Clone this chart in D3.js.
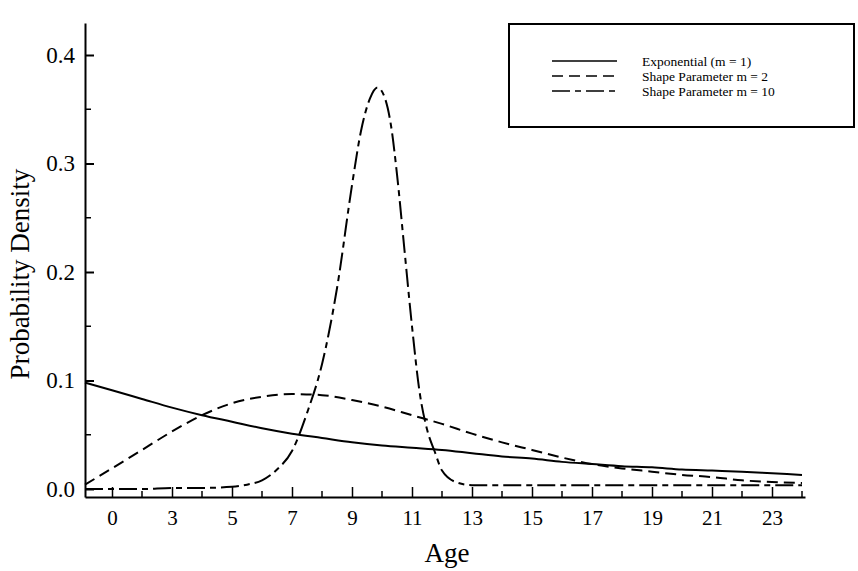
<!DOCTYPE html>
<html>
<head>
<meta charset="utf-8">
<script src="https://cdn.jsdelivr.net/npm/d3@7"></script>
<style>
  html, body { margin: 0; padding: 0; background: #fff; }
  svg { display: block; }
  text { font-family: "Liberation Serif", "Times New Roman", serif; fill: #000; }
</style>
</head>
<body>
<svg id="chart" width="858" height="571"></svg>
<script>
// ---- data ----
const xTickValues = [1, 3, 5, 7, 9, 11, 13, 15, 17, 19, 21, 23];
const xTickLabels = ["0", "3", "5", "7", "9", "11", "13", "15", "17", "19", "21", "23"];
const xMinorTicks = [2, 4, 6, 8, 10, 12, 14, 16, 18, 20, 22, 24];
const yTickValues = [0, 0.1, 0.2, 0.3, 0.4];
const yTickLabels = ["0.0", "0.1", "0.2", "0.3", "0.4"];
const yMinorTicks = [0.05, 0.15, 0.25, 0.35];

const seriesNames = ["Exponential (m = 1)", "Shape Parameter m = 2", "Shape Parameter m = 10"];

const ageExp = [0.1, 1, 2, 3, 4, 5, 6, 7, 8, 9, 10, 11, 12, 13, 14, 15, 16, 17, 18, 19, 20, 21, 22, 23, 24];
const densExp = [0.098, 0.091, 0.083, 0.075, 0.068, 0.062, 0.056, 0.051, 0.047, 0.043, 0.040, 0.038, 0.036, 0.033, 0.030, 0.028, 0.025, 0.023, 0.021, 0.020, 0.018, 0.017, 0.016, 0.0145, 0.013];

const ageM2 = [0.1, 1, 2, 3, 4, 5, 6, 7, 8, 9, 10, 11, 12, 13, 14, 15, 16, 17, 18, 19, 20, 21, 22, 23, 24];
const densM2 = [0.004, 0.019, 0.036, 0.053, 0.068, 0.079, 0.085, 0.0875, 0.0865, 0.082, 0.076, 0.068, 0.060, 0.051, 0.043, 0.036, 0.029, 0.023, 0.019, 0.016, 0.013, 0.011, 0.008, 0.0065, 0.0055];

const ageM10 = [0.1, 1, 2, 3, 4, 5, 5.5, 6, 6.5, 7, 7.5, 8, 8.5, 9, 9.3, 9.6, 9.85, 10.1, 10.3, 10.5, 10.75, 11, 11.25, 11.5, 11.75, 12, 12.5, 13, 14, 16, 18, 20, 22, 24];
const densM10 = [0.000, 0.000, 0.000, 0.001, 0.001, 0.002, 0.004, 0.008, 0.018, 0.035, 0.070, 0.115, 0.185, 0.280, 0.330, 0.360, 0.370, 0.360, 0.335, 0.290, 0.220, 0.150, 0.090, 0.055, 0.035, 0.017, 0.006, 0.0035, 0.0035, 0.0035, 0.0035, 0.0035, 0.0035, 0.0035];

// ---- layout ----
const svg = d3.select("#chart");
const x = d3.scaleLinear().domain([0.1, 24.1]).range([85, 805]);
const y = d3.scaleLinear().domain([0, 0.4]).range([489, 55]);
const yBottom = y.invert(497), yTop = y.invert(23);
const yAxisScale = y.copy().domain([yBottom, yTop]).range([497, 23]);

// x axis
const gx = svg.append("g").attr("transform", `translate(0,${yAxisScale(yBottom)})`);
gx.call(d3.axisBottom(x).tickValues(xTickValues).tickSizeInner(-10).tickSizeOuter(0)
  .tickFormat((d, i) => xTickLabels[i]).tickPadding(13));
gx.select(".domain").attr("stroke", "#000").attr("stroke-width", 2);
gx.selectAll(".tick line").attr("stroke", "#000").attr("stroke-width", 1.5);
gx.selectAll(".tick text").attr("font-size", 21).attr("font-family", "Liberation Serif");
gx.selectAll(".minor").data(xMinorTicks).enter().append("line")
  .attr("x1", d => x(d)).attr("x2", d => x(d)).attr("y1", 0).attr("y2", -6)
  .attr("stroke", "#000").attr("stroke-width", 1.5);

// y axis
const gy = svg.append("g").attr("transform", `translate(${x(0.1)},0)`);
gy.call(d3.axisLeft(yAxisScale).tickValues(yTickValues).tickSizeInner(-9).tickSizeOuter(0)
  .tickFormat((d, i) => yTickLabels[i]).tickPadding(10));
gy.select(".domain").attr("stroke", "#000").attr("stroke-width", 2);
gy.selectAll(".tick line").attr("stroke", "#000").attr("stroke-width", 2);
gy.selectAll(".tick text").attr("font-size", 23).attr("font-family", "Liberation Serif");
gy.selectAll(".minor").data(yMinorTicks).enter().append("line")
  .attr("x1", 0).attr("x2", 6).attr("y1", d => y(d)).attr("y2", d => y(d))
  .attr("stroke", "#000").attr("stroke-width", 1.5);

// axis titles
svg.append("text").attr("x", 447).attr("y", 562).attr("text-anchor", "middle")
  .attr("font-size", 27).text("Age");
svg.append("text").attr("transform", "translate(29,274) rotate(-90)")
  .attr("text-anchor", "middle").attr("font-size", 27).text("Probability Density");

// curves
const dashes = [null, "11,6", "18,5,6,5"];
const series = [
  { xs: ageExp, ys: densExp },
  { xs: ageM2, ys: densM2 },
  { xs: ageM10, ys: densM10 }
];
const line = d3.line().x(d => x(d[0])).y(d => y(d[1])).curve(d3.curveMonotoneX);
series.forEach((s, i) => {
  svg.append("path")
    .datum(s.xs.map((v, j) => [v, s.ys[j]]))
    .attr("d", line)
    .attr("fill", "none")
    .attr("stroke", "#000")
    .attr("stroke-width", 2)
    .attr("stroke-dasharray", dashes[i]);
});

// legend
const lg = svg.append("g");
lg.append("rect").attr("x", 509).attr("y", 24).attr("width", 345).attr("height", 103)
  .attr("fill", "#fff").attr("stroke", "#000").attr("stroke-width", 2);
const rowsY = [61, 76, 91];
seriesNames.forEach((name, i) => {
  lg.append("line").attr("x1", 552).attr("x2", 617).attr("y1", rowsY[i]).attr("y2", rowsY[i])
    .attr("stroke", "#000").attr("stroke-width", 1.5).attr("stroke-dasharray", dashes[i]);
  lg.append("text").attr("x", 642).attr("y", rowsY[i]).attr("dy", "0.35em")
    .attr("font-size", 13.5).text(name);
});
</script>
</body>
</html>
